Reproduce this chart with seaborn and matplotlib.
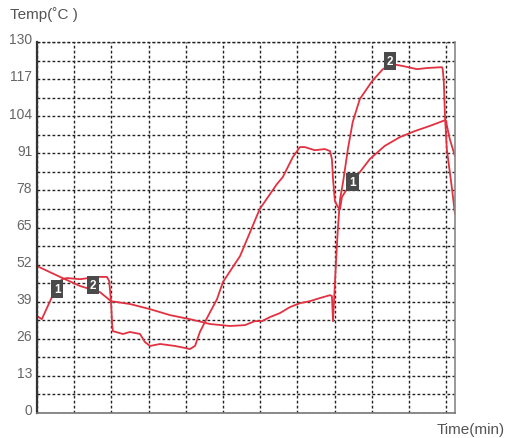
# 温度プロファイル（2系列）の再現

import matplotlib
matplotlib.use("Agg")
import matplotlib.pyplot as plt
from matplotlib import font_manager
from matplotlib.transforms import ScaledTranslation
from matplotlib.ticker import MultipleLocator
import pandas as pd
import seaborn as sns


# 系列1（左で33℃付近から立ち上がる曲線）
CURVE1_TIME = [
    0.00, 0.13, 0.40, 0.54, 0.67, 0.81, 1.16, 1.61, 1.88, 1.94, 1.99, 2.02,
    2.04, 2.31, 2.50, 2.77, 2.90, 3.04, 3.31, 3.71, 3.98, 4.11, 4.25, 4.38,
    4.60, 4.84, 5.00, 5.46, 5.99, 6.45, 6.61, 6.88, 7.07, 7.20, 7.47, 7.74,
    7.88, 7.93, 7.96, 8.01, 8.09, 8.15, 8.20, 8.28, 8.49, 8.68, 8.95, 9.35,
    9.76, 10.16, 10.56, 10.99, 11.10, 11.24,
]
CURVE1_TEMP = [
    34.0, 32.9, 40.6, 44.5, 46.9, 47.3, 46.9, 47.7, 47.7, 46.3, 39.2, 31.2,
    28.7, 27.7, 28.4, 27.7, 24.9, 23.5, 24.2, 23.5, 22.8, 22.4, 23.5, 28.4,
    34.0, 39.9, 45.9, 55.0, 71.5, 80.2, 82.7, 89.7, 93.2, 93.2, 92.1, 92.5,
    91.8, 89.0, 82.0, 74.3, 72.2, 71.5, 75.7, 77.4, 80.9, 84.4, 89.0, 93.6,
    96.7, 98.8, 100.6, 102.7, 96.0, 90.0,
]

# 系列2（左で51℃付近から下がる曲線）
CURVE2_TIME = [
    0.00, 0.62, 1.16, 1.69, 1.99, 2.50, 3.04, 3.58, 4.11, 4.65, 5.19, 5.59,
    5.86, 6.05, 6.26, 6.53, 6.80, 7.07, 7.34, 7.61, 7.88, 7.93, 7.96, 8.04,
    8.09, 8.15, 8.23, 8.36, 8.49, 8.68, 9.01, 9.30, 9.54, 9.84, 10.22, 10.48,
    10.89, 10.91, 10.94, 10.97, 11.02, 11.16, 11.24,
]
CURVE2_TEMP = [
    51.5, 47.7, 44.5, 42.4, 39.2, 38.2, 36.4, 34.3, 32.9, 31.2, 30.5, 30.8,
    32.2, 32.2, 33.6, 35.0, 37.1, 38.5, 39.2, 40.3, 41.3, 41.0, 32.2, 52.9,
    64.5, 75.0, 80.9, 92.5, 102.0, 110.0, 116.3, 120.5, 122.3, 121.6, 120.5, 120.9,
    121.2, 120.5, 116.0, 104.1, 92.5, 78.5, 69.7,
]

# 系列番号のラベル位置
MARKER_LABELS = ["1", "2", "1", "2"]
MARKER_TIME = [0.54, 1.51, 8.49, 9.49]
MARKER_TEMP = [43.4, 44.8, 80.9, 123.3]

Y_TICKS = [0, 13, 26, 39, 52, 65, 78, 91, 104, 117, 130]

LINE_COLOR = "#e23140"


def setup_plot_style() -> tuple[list, bool]:
    sns.set_theme(style="white")
    names = {f.name for f in font_manager.fontManager.ttflist}
    narrow = "Liberation Sans Narrow" in names
    family = ["Liberation Sans Narrow" if narrow else "Liberation Sans", "DejaVu Sans"]
    plt.rcParams["font.family"] = family
    plt.rcParams["axes.unicode_minus"] = False
    return family, narrow


def plot_profile(output_file: str, narrow: bool) -> None:
    fig = plt.figure(figsize=(5.11, 4.39), dpi=100)
    ax = fig.add_axes([0.0724, 0.0569, 0.818, 0.845])

    for t, v in [(CURVE1_TIME, CURVE1_TEMP), (CURVE2_TIME, CURVE2_TEMP)]:
        df = pd.DataFrame({"time": t, "temp": v})
        sns.lineplot(
            data=df, x="time", y="temp", sort=False, estimator=None,
            color=LINE_COLOR, linewidth=1.3, ax=ax,
        )

    for label, t, v in zip(MARKER_LABELS, MARKER_TIME, MARKER_TEMP):
        ax.text(
            t, v, label, ha="center", va="center", color="white",
            fontsize=8.5, fontweight="bold", zorder=5,
            family=["Liberation Sans", "DejaVu Sans"],
            bbox=dict(boxstyle="square,pad=0.25", fc="#4a4a4a", ec="none"),
        )

    ax.set_xlim(0, 11.24)
    ax.set_ylim(0, 130)
    ax.set_yticks(Y_TICKS)
    ax.yaxis.set_minor_locator(MultipleLocator(6.5))
    ax.xaxis.set_major_locator(MultipleLocator(1))
    ax.set_xticklabels([])
    ax.tick_params(axis="both", which="both", length=0)
    ax.tick_params(axis="y", labelsize=11 if narrow else 10,
                   labelcolor="#666666", pad=3.5)

    grid_kw = dict(color="#222222", linewidth=1.0, linestyle=(0, (2, 1.6)))
    ax.grid(True, which="both", axis="y", **grid_kw)
    ax.grid(True, which="major", axis="x", **grid_kw)
    ax.set_axisbelow(True)
    ax.axhline(130, clip_on=False, zorder=0, **grid_kw)

    ax.spines["top"].set_visible(False)
    ax.spines["left"].set_color("#333333")
    ax.spines["left"].set_linewidth(1.6)
    ax.spines["bottom"].set_color("#777777")
    ax.spines["bottom"].set_linewidth(1.2)
    ax.spines["right"].set_color("#888888")
    ax.spines["right"].set_linewidth(1.2)

    ax.set_xlabel("")
    ax.set_ylabel("")

    offset = ScaledTranslation(0, 3 / 72, fig.dpi_scale_trans)
    for lab in ax.get_yticklabels():
        lab.set_transform(lab.get_transform() + offset)

    fig.text(10 / 511, 1 - 15 / 439, "Temp(˚C )", ha="left", va="center",
             fontsize=12 if narrow else 11, color="#555555")
    fig.text(505 / 511, 1 - 430 / 439, "Time(min)", ha="right", va="center",
             fontsize=12.5 if narrow else 11, color="#555555")

    fig.savefig(output_file, dpi=100)
    plt.close(fig)


if __name__ == "__main__":
    _, has_narrow = setup_plot_style()
    plot_profile("out.png", has_narrow)
